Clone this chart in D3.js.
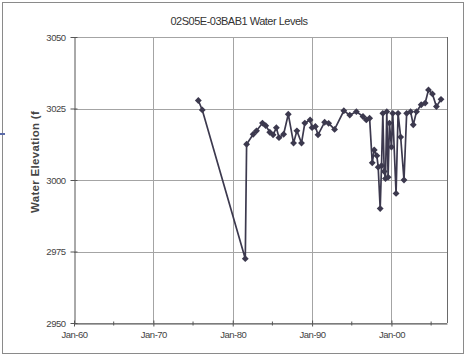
<!DOCTYPE html>
<html>
<head>
<meta charset="utf-8">
<script src="https://cdn.jsdelivr.net/npm/d3@7"></script>
<style>
  html, body { margin: 0; padding: 0; background: #fff; }
  svg { display: block; font-family: "Liberation Sans", Arial, sans-serif; }
</style>
</head>
<body>
<svg id="chart" width="470" height="359"></svg>
<script>
// Well 02S05E-03BAB1: measurement dates and water elevations (ft)
const measureDates = [
  "1975-09", "1976-03", "1981-08", "1981-10", "1982-08", "1983-01", "1983-10",
  "1984-03", "1984-09", "1985-02", "1985-07", "1985-11", "1986-06", "1987-01",
  "1987-09", "1988-02", "1988-09", "1989-02", "1989-10", "1990-01", "1990-06",
  "1990-10", "1991-08", "1992-02", "1992-11", "1994-01", "1994-10", "1995-08",
  "1996-06", "1996-11", "1997-04", "1997-08", "1997-11", "1998-03", "1998-05",
  "1998-08", "1998-10", "1998-12", "1999-02", "1999-04", "1999-06", "1999-08",
  "1999-10", "2000-01", "2000-03", "2000-08", "2000-11", "2001-03", "2001-08",
  "2001-12", "2002-06", "2002-10", "2003-03", "2003-10", "2004-04", "2004-09",
  "2005-03", "2005-09", "2006-04"
];
const waterElevations = [
  3027.8, 3024.5, 2972.5, 3012.5, 3016.0, 3017.2, 3019.9,
  3019.0, 3016.7, 3015.8, 3018.3, 3014.8, 3016.0, 3023.0,
  3012.9, 3017.2, 3012.9, 3019.9, 3021.0, 3018.3, 3018.7,
  3015.8, 3020.2, 3019.8, 3017.7, 3024.2, 3022.7, 3023.9,
  3022.2, 3021.0, 3021.6, 3006.0, 3010.5, 3008.5, 3004.5,
  2990.0, 3005.0, 3023.3, 3003.0, 3000.5, 3023.9, 3001.0,
  3019.9, 3011.5, 3023.3, 2995.3, 3023.3, 3015.0, 3000.0,
  3023.3, 3023.9, 3019.3, 3023.9, 3026.3, 3026.9, 3031.5,
  3030.1, 3025.7, 3028.2
];
const yTicks = [2950, 2975, 3000, 3025, 3050];
const xTickYears = [1960, 1970, 1980, 1990, 2000];
const xMinorYears = [1965, 1975, 1985, 1995, 2005];
const chartTitle = "02S05E-03BAB1 Water Levels";
const yTitle = "Water Elevation (f";

const parseMonth = d3.timeParse("%Y-%m");
const points = measureDates.map((d, i) => ({ date: parseMonth(d), value: waterElevations[i] }));

const svg = d3.select("#chart");
const plot = { left: 74, top: 37, right: 447, bottom: 323 };

const x = d3.scaleTime()
  .domain([new Date(1960, 0, 1), new Date(2007, 0, 1)])
  .range([plot.left, plot.right]);
const y = d3.scaleLinear()
  .domain([2950, 3050])
  .range([plot.bottom, plot.top]);

// outer chart frame
svg.append("rect")
  .attr("x", 2.5).attr("y", 2.5).attr("width", 461).attr("height", 351)
  .attr("fill", "none").attr("stroke", "#8a8a8a").attr("stroke-width", 1);
svg.append("line")
  .attr("x1", 0).attr("x2", 5).attr("y1", 134).attr("y2", 134)
  .attr("stroke", "#5a6aa8").attr("stroke-width", 2);

// title
svg.append("text")
  .attr("x", 239).attr("y", 25)
  .attr("text-anchor", "middle")
  .attr("font-size", 11).attr("fill", "#333")
  .attr("letter-spacing", -0.5)
  .text(chartTitle);

// gridlines
const grid = svg.append("g").attr("stroke", "#a4a4a4").attr("stroke-width", 1);
grid.selectAll("line.h").data(yTicks).join("line")
  .attr("x1", plot.left).attr("x2", plot.right)
  .attr("y1", d => Math.round(y(d)) + 0.5).attr("y2", d => Math.round(y(d)) + 0.5);
grid.selectAll("line.v").data(xTickYears.slice(1)).join("line")
  .attr("x1", d => Math.round(x(new Date(d, 0, 1))) + 0.5)
  .attr("x2", d => Math.round(x(new Date(d, 0, 1))) + 0.5)
  .attr("y1", plot.top).attr("y2", plot.bottom);
// plot area border (right side)
svg.append("line")
  .attr("x1", plot.right + 0.5).attr("x2", plot.right + 0.5)
  .attr("y1", plot.top).attr("y2", plot.bottom)
  .attr("stroke", "#6a6a6a");

// y axis
const yAxis = d3.axisLeft(y).tickValues(yTicks).tickSizeInner(4).tickSizeOuter(0)
  .tickFormat(d3.format("d"));
const gy = svg.append("g")
  .attr("transform", `translate(${plot.left + 0.5},0)`)
  .call(yAxis);
gy.select(".domain").attr("stroke", "#555");
gy.selectAll(".tick line").attr("stroke", "#555").attr("x1", 3);
gy.selectAll(".tick text").attr("font-size", 9.5).attr("fill", "#444")
  .attr("letter-spacing", -0.5).attr("x", -9)
  .attr("font-family", "Liberation Sans, Arial, sans-serif");

// x axis
const xAxis = d3.axisBottom(x)
  .tickValues(xTickYears.map(yr => new Date(yr, 0, 1)))
  .tickFormat(d3.timeFormat("%b-%y"))
  .tickSizeInner(3).tickSizeOuter(0);
const gx = svg.append("g")
  .attr("transform", `translate(0,${plot.bottom + 0.5})`)
  .call(xAxis);
gx.select(".domain").attr("stroke", "#555");
gx.selectAll(".tick line").attr("stroke", "#555").attr("y1", -3).attr("y2", 3);
gx.selectAll(".tick text").attr("font-size", 9.5).attr("fill", "#444")
  .attr("letter-spacing", -0.5).attr("y", 8)
  .attr("font-family", "Liberation Sans, Arial, sans-serif");
gx.selectAll("line.minor").data(xMinorYears).join("line")
  .attr("class", "minor")
  .attr("x1", d => x(new Date(d, 0, 1))).attr("x2", d => x(new Date(d, 0, 1)))
  .attr("y1", -2).attr("y2", 2)
  .attr("stroke", "#555");

// y axis title
svg.append("text")
  .attr("transform", "translate(39,213) rotate(-90)")
  .attr("text-anchor", "start")
  .attr("font-size", 11.5).attr("font-weight", "bold").attr("fill", "#444")
  .attr("letter-spacing", 0.3)
  .text(yTitle);

// series line and diamond markers
const seriesColor = "#3c394e";
const line = d3.line().x(d => x(d.date)).y(d => y(d.value));
svg.append("path")
  .datum(points)
  .attr("d", line)
  .attr("fill", "none")
  .attr("stroke", seriesColor)
  .attr("stroke-width", 1.7);
svg.append("g").selectAll("path").data(points).join("path")
  .attr("transform", d => `translate(${x(d.date)},${y(d.value)})`)
  .attr("d", d3.symbol(d3.symbolDiamond2, 30))
  .attr("fill", seriesColor);
</script>
</body>
</html>
